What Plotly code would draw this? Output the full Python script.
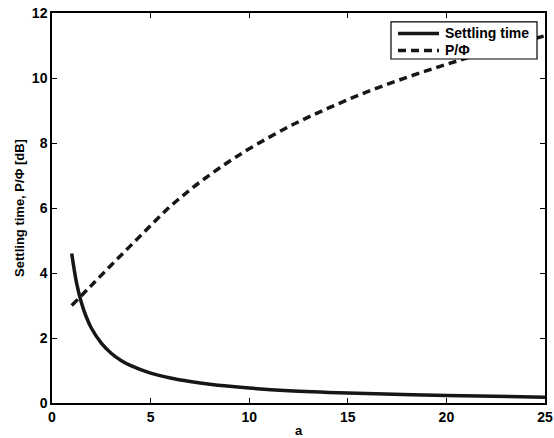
import plotly.graph_objects as go

# Data
a_settle = [1, 1.25, 1.5, 1.75, 2, 2.5, 3, 3.5, 4, 5, 6, 7, 8, 10, 12, 15, 20, 25]
settling_time = [4.6, 3.68, 3.07, 2.63, 2.3, 1.84, 1.53, 1.31, 1.15, 0.92, 0.77, 0.66,
                 0.575, 0.46, 0.38, 0.31, 0.23, 0.18]

a_pphi = [1, 2, 3, 4, 5, 6, 7, 8, 9, 10, 12, 14, 16, 18, 20, 22, 24, 25]
p_over_phi = [3.0, 3.62, 4.24, 4.85, 5.46, 6.05, 6.56, 7.02, 7.44, 7.82, 8.5, 9.07,
              9.58, 10.02, 10.42, 10.79, 11.13, 11.3]

x_ticks = [0, 5, 10, 15, 20, 25]
y_ticks = [0, 2, 4, 6, 8, 10, 12]
legend_labels = ["<b>Settling time</b>", "<b>P/Φ</b>"]

FONT = "Liberation Sans, Arial, sans-serif"
INK = "#161616"
LW = 3.5
DASH = "8px,5px"

fig = go.Figure()
fig.add_trace(go.Scatter(x=a_settle, y=settling_time, mode="lines", name=legend_labels[0],
                         line=dict(color=INK, width=LW, shape="spline")))
fig.add_trace(go.Scatter(x=a_pphi, y=p_over_phi, mode="lines", name=legend_labels[1],
                         line=dict(color=INK, width=LW, dash=DASH, shape="spline")))

axis_common = dict(showline=True, linecolor="black", linewidth=1.5, mirror="ticks",
                   ticks="inside", ticklen=5, tickwidth=1, tickcolor="black",
                   showgrid=False, zeroline=False, automargin=False,
                   ticklabeloverflow="allow",
                   tickfont=dict(family=FONT, size=14, color="black"))

fig.update_xaxes(range=[0, 25], tickvals=x_ticks, ticktext=[f"<b>{v}</b>" for v in x_ticks],
                 title=dict(text="<b>a</b>", font=dict(family=FONT, size=13, color="black"), standoff=4),
                 **axis_common)
fig.update_yaxes(range=[0, 12], tickvals=y_ticks, ticktext=[f"<b>{v}</b>" for v in y_ticks],
                 title=dict(text="<b>Settling time, P/Φ [dB]</b>", font=dict(family=FONT, size=13, color="black"), standoff=4),
                 **axis_common)

# Legend box drawn in paper coordinates (MATLAB style, compact rows)
box = dict(x0=0.6876, x1=0.9838, y0=0.882, y1=0.977)
fig.add_shape(type="rect", xref="paper", yref="paper", **box,
              line=dict(color="black", width=1.2), fillcolor="white", layer="above")
rows_y = [0.9475, 0.904]
sample_x = (0.7018, 0.785)
styles = [dict(color=INK, width=LW), dict(color=INK, width=LW, dash=DASH)]
for yy, st, lab in zip(rows_y, styles, legend_labels):
    fig.add_shape(type="line", xref="paper", yref="paper",
                  x0=sample_x[0], x1=sample_x[1], y0=yy, y1=yy, line=st, layer="above")
    fig.add_annotation(xref="paper", yref="paper", x=0.793, y=yy, text=lab,
                       showarrow=False, xanchor="left", yanchor="middle",
                       font=dict(family=FONT, size=14, color="black"))

fig.update_layout(
    width=554, height=438,
    margin=dict(l=52, r=9, t=13, b=35),
    paper_bgcolor="white", plot_bgcolor="white",
    showlegend=False,
)

fig.write_html(
    "out.html",
    config={"displayModeBar": False},
    post_script="document.body.style.margin='0';"
                "document.body.style.overflow='hidden';"
                "document.documentElement.style.overflow='hidden';",
)
